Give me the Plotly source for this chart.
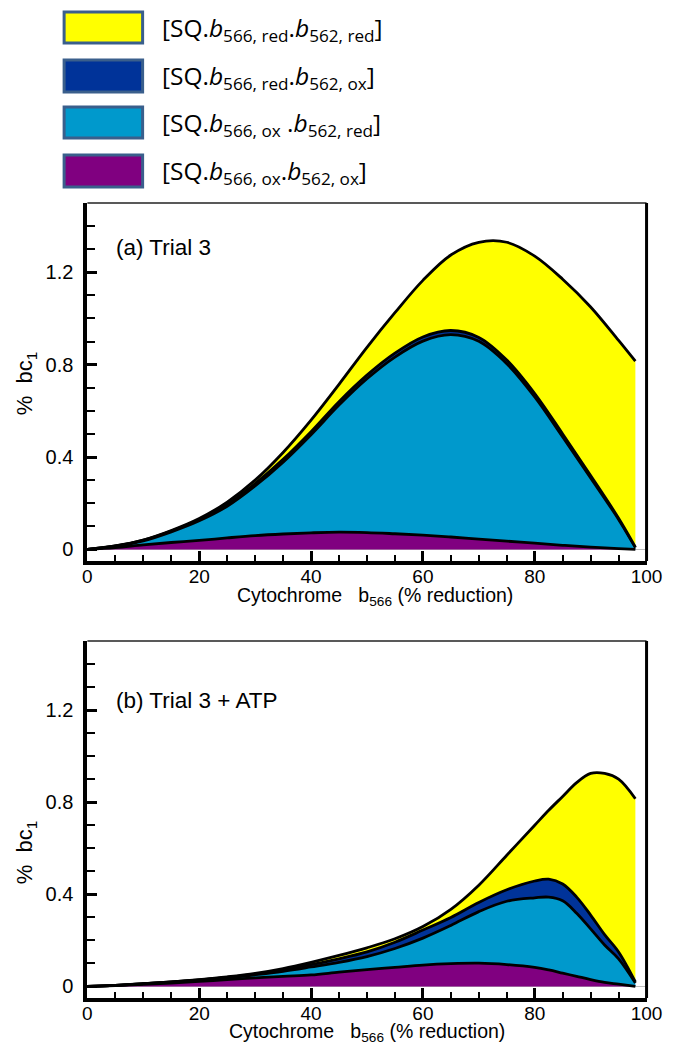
import plotly.graph_objects as go

# ---------------- data ----------------
x_a = [0, 5, 10, 15, 20, 25, 30, 35, 40, 45, 50, 55, 60, 65, 70, 75, 80, 85, 90, 95, 98]

# (a) Trial 3 : per-species % bc1 (stacked)
a_ox_ox = [0, 0.008, 0.02, 0.03, 0.039, 0.05, 0.06, 0.067, 0.072, 0.075, 0.073, 0.068, 0.062,
           0.054, 0.045, 0.036, 0.027, 0.018, 0.01, 0.004, 0.0]
a_ox_red = [0, 0.006, 0.017, 0.046, 0.085, 0.137, 0.215, 0.311, 0.425, 0.55, 0.666, 0.765, 0.84,
            0.876, 0.856, 0.768, 0.633, 0.469, 0.30, 0.126, 0.008]
a_red_ox = [0, 0.001, 0.003, 0.004, 0.006, 0.008, 0.01, 0.012, 0.013, 0.015, 0.016, 0.017, 0.018,
            0.018, 0.017, 0.016, 0.015, 0.013, 0.01, 0.005, 0.002]
a_red_red = [0, 0, 0.001, 0.002, 0.004, 0.01, 0.015, 0.03, 0.05, 0.075, 0.12, 0.175, 0.245,
             0.327, 0.412, 0.51, 0.595, 0.67, 0.73, 0.77, 0.805]

# (b) Trial 3 + ATP
x_b = [0, 5, 10, 15, 20, 25, 30, 35, 40, 45, 50, 55, 60, 65, 70, 75, 80, 82.5, 85, 87.5,
       90, 92.5, 95, 98]
b_ox_ox = [0, 0.004, 0.009, 0.015, 0.022, 0.03, 0.037, 0.044, 0.05, 0.062, 0.073, 0.083, 0.093,
           0.099, 0.101, 0.095, 0.083, 0.072, 0.058, 0.044, 0.03, 0.018, 0.01, 0.0]
b_ox_red = [0, 0.001, 0.003, 0.004, 0.006, 0.008, 0.014, 0.022, 0.035, 0.043, 0.057, 0.082, 0.117,
            0.166, 0.224, 0.275, 0.302, 0.316, 0.314, 0.274, 0.22, 0.162, 0.11, 0.015]
b_red_ox = [0, 0, 0, 0.001, 0.001, 0.002, 0.003, 0.006, 0.01, 0.015, 0.02, 0.027, 0.035,
            0.035, 0.04, 0.05, 0.073, 0.078, 0.073, 0.07, 0.06, 0.045, 0.03, 0.005]
b_red_red = [0, 0, 0, 0, 0.001, 0.002, 0.003, 0.006, 0.01, 0.015, 0.018, 0.015, 0.015,
             0.035, 0.075, 0.15, 0.242, 0.299, 0.38, 0.497, 0.615, 0.70, 0.75, 0.795]

legend_labels = [
    "[SQ.<i>b</i><sub>566, red</sub>.<i>b</i><sub>562, red</sub>]",
    "[SQ.<i>b</i><sub>566, red</sub>.<i>b</i><sub>562, ox</sub>]",
    "[SQ.<i>b</i><sub>566, ox</sub> .<i>b</i><sub>562, red</sub>]",
    "[SQ.<i>b</i><sub>566, ox</sub>.<i>b</i><sub>562, ox</sub>]",
]
legend_colors = ["#FFFF00", "#003399", "#0099CC", "#800080"]
panel_titles = ["(a) Trial 3", "(b) Trial 3 + ATP"]
x_title = "Cytochrome&nbsp;&nbsp;&nbsp;b<sub>566</sub> (% reduction)"
y_title = "%&nbsp;&nbsp;bc<sub>1</sub>"

# ---------------- figure ----------------
W, H = 680, 1042
fig = go.Figure()

FONT = "Liberation Sans, Arial, sans-serif"
C_YEL, C_DB, C_LB, C_PU = "#FFFF00", "#003399", "#0099CC", "#800080"

panels = [
    ("x", "y", x_a, [a_ox_ox, a_ox_red, a_red_ox, a_red_red]),
    ("x2", "y2", x_b, [b_ox_ox, b_ox_red, b_red_ox, b_red_red]),
]
for xa, ya, xs, series in panels:
    for vals, col in zip(series, [C_PU, C_LB, C_DB, C_YEL]):
        fig.add_trace(go.Scatter(
            x=xs, y=vals, xaxis=xa, yaxis=ya, mode="lines",
            stackgroup="s" + ya, fillcolor=col,
            line=dict(color="black", width=2.8, shape="spline", smoothing=1.0),
            showlegend=False, hoverinfo="skip"))

def px_x(p):
    return p / W

def px_y(p):
    return 1 - p / H

xdom = [px_x(85), px_x(662)]
dom_top = [px_y(561), px_y(203)]
dom_bot = [px_y(998), px_y(641)]

def xaxis_cfg(anchor):
    return dict(domain=xdom, anchor=anchor, range=[0, 100], tick0=0, dtick=20,
                ticks="inside", ticklen=10, tickwidth=2.5, tickcolor="black",
                showline=True, linewidth=4, linecolor="black", mirror=False,
                showgrid=False, zeroline=False, ticklabelstandoff=-5,
                minor=dict(dtick=5, ticks="inside", ticklen=6, tickwidth=2.2, tickcolor="black"),
                tickfont=dict(family=FONT, size=19, color="black"))

def yaxis_cfg(dom, anchor):
    return dict(domain=dom, anchor=anchor, range=[-0.05, 1.5],
                tickvals=[0, 0.4, 0.8, 1.2], ticktext=["0", "0.4", "0.8", "1.2"],
                ticks="inside", ticklen=10, tickwidth=2.5, tickcolor="black",
                showline=True, linewidth=4, linecolor="black", mirror=False,
                showgrid=False, zeroline=True, zerolinecolor="#bdbdbd", zerolinewidth=1,
                ticklabelstandoff=6,
                minor=dict(dtick=0.1, tick0=0, ticks="inside", ticklen=8, tickwidth=2.2,
                           tickcolor="black"),
                tickfont=dict(family=FONT, size=20, color="black"))

fig.update_layout(
    width=W, height=H, margin=dict(l=0, r=0, t=0, b=0),
    paper_bgcolor="white", plot_bgcolor="white",
    xaxis=xaxis_cfg("y"), yaxis=yaxis_cfg(dom_top, "x"),
    xaxis2=xaxis_cfg("y2"), yaxis2=yaxis_cfg(dom_bot, "x2"),
)

shapes = []
for xr, yr in [("x domain", "y domain"), ("x2 domain", "y2 domain")]:
    shapes.append(dict(type="line", xref=xr, yref=yr, x0=0, x1=1, y0=1, y1=1,
                       line=dict(color="#222", width=1.6)))
    shapes.append(dict(type="line", xref=xr, yref=yr, x0=1, x1=1, y0=0, y1=1,
                       line=dict(color="black", width=3)))

annotations = []
# legend (drawn as boxes + text)
box_y = [(12, 43), (60, 92), (107, 138), (155, 187)]
for (y0, y1), col, lab in zip(box_y, legend_colors, legend_labels):
    shapes.append(dict(type="rect", xref="paper", yref="paper",
                       x0=px_x(61), x1=px_x(142), y0=px_y(y1), y1=px_y(y0),
                       fillcolor=col, line=dict(color="#3A5F8C", width=3)))
    annotations.append(dict(xref="paper", yref="paper", x=px_x(160), y=px_y((y0 + y1) / 2 + 1),
                            xanchor="left", yanchor="middle", showarrow=False, text=lab,
                            font=dict(family="Open Sans, Noto Sans, sans-serif", size=24.5,
                                      color="black")))

# panel labels
for txt, yc in zip(panel_titles, [247, 700]):
    annotations.append(dict(xref="paper", yref="paper", x=px_x(112), y=px_y(yc),
                            xanchor="left", yanchor="middle", showarrow=False, text=txt,
                            font=dict(family=FONT, size=22.5, color="black")))

# axis titles
for xc, yc in [(382, 596), (374, 1032)]:
    annotations.append(dict(xref="paper", yref="paper", x=px_x(xc), y=px_y(yc),
                            xanchor="center", yanchor="middle", showarrow=False, text=x_title,
                            font=dict(family=FONT, size=19.5, color="black")))
for yc in [383, 852]:
    annotations.append(dict(xref="paper", yref="paper", x=px_x(22), y=px_y(yc),
                            xanchor="center", yanchor="middle", showarrow=False, text=y_title,
                            textangle=-90, font=dict(family=FONT, size=22, color="black")))

fig.update_layout(shapes=shapes, annotations=annotations)
fig.write_html("out.html")
